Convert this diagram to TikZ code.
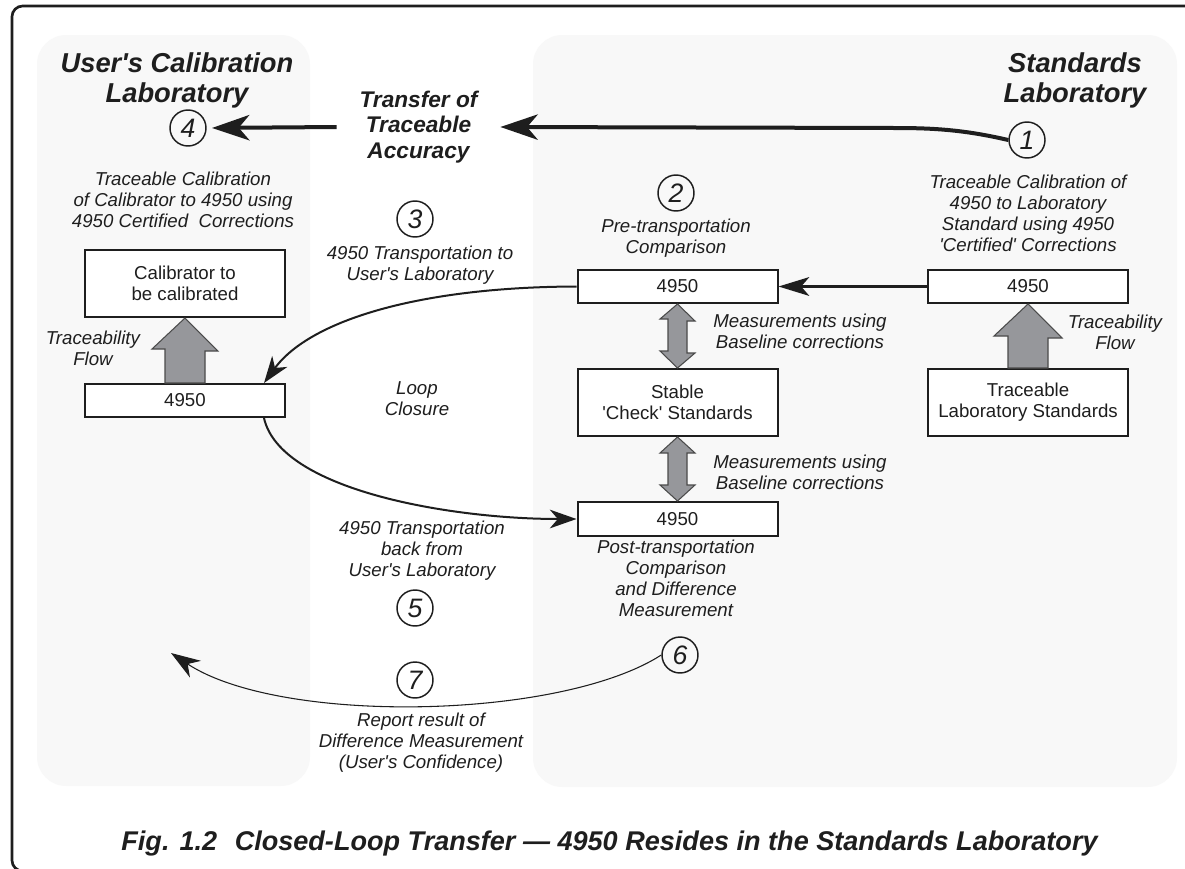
\documentclass[tikz,border=0pt]{standalone}
\usepackage{fontspec}
\setmainfont{Liberation Sans}
\usetikzlibrary{arrows.meta,calc}
\definecolor{panel}{RGB}{248,248,248}
\definecolor{blockgray}{RGB}{150,151,155}
\definecolor{ink}{RGB}{30,30,30}
\newcommand{\q}{\textquotesingle}
\begin{document}
\begin{tikzpicture}[x=0.75pt,y=-0.75pt,
  box/.style={draw=ink, line width=1.5pt, fill=white, minimum width=150pt, inner sep=0pt, align=center, font=\fontsize{14}{15.75}\selectfont, text=ink},
  numc/.style={circle, draw=ink, line width=1.1pt, minimum size=27pt, inner sep=0pt, font=\fontsize{20}{20}\selectfont\itshape, text=ink},
  lbl/.style={align=center, font=\fontsize{14}{15.75}\selectfont\itshape, text=ink, inner sep=0pt},
  ttl/.style={align=center, font=\fontsize{20.5}{22.5}\selectfont\bfseries\itshape, text=ink, inner sep=0pt},
  block/.style={fill=blockgray, draw=ink!80, line width=0.8pt, line join=miter},
  bigarrow/.style={draw=ink, line width=3pt, -{Stealth[length=28pt,width=19pt,inset=8pt]}},
  midarrow/.style={draw=ink, line width=2.2pt, -{Stealth[length=23pt,width=14pt,inset=6pt]}},
  curvearrow/.style={draw=ink, line width=1.5pt, -{Stealth[length=20pt,width=14pt,inset=6pt]}},
  thinarrow/.style={draw=ink, line width=0.8pt, -{Stealth[length=22pt,width=15pt,inset=7pt]}},
]
\useasboundingbox (0,0) rectangle (1185,868);
\fill[white] (0,0) rectangle (1185,868);
\begin{scope}
\clip (0,0) rectangle (1185,868);
\draw[ink, line width=2pt, rounded corners=8pt] (12,6) rectangle (1200,871);
\end{scope}
% panels
\fill[panel, rounded corners=22pt] (37,35) rectangle (310,786);
\fill[panel, rounded corners=22pt] (533,35) rectangle (1177,787);

% titles
\node[ttl] (tleft) at (177,80) {User\q s Calibration\\Laboratory};
\node[ttl] (tright) at (1075,80) {Standards\\Laboratory};
\node[align=center, font=\fontsize{17}{19}\selectfont\bfseries\itshape, text=ink, inner xsep=17pt, inner ysep=0pt] (trans) at (418.5,127) {Transfer of\\Traceable\\Accuracy};

% circles
\node[numc] (c1) at (1027,140) {1};
\node[numc] (c2) at (676,193) {2};
\node[numc] (c3) at (415,219) {3};
\node[numc] (c4) at (188,128) {4};
\node[numc] (c5) at (415,608) {5};
\node[numc] (c6) at (680,655) {6};
\node[numc] (c7) at (415,680) {7};

% labels
\node[lbl] (l1) at (1028,213) {Traceable Calibration of\\4950 to Laboratory\\Standard using 4950\\\q Certified\q{} Corrections};
\node[lbl] (l4) at (183,200) {Traceable Calibration\\of Calibrator to 4950 using\\4950 Certified~ Corrections};
\node[lbl] (l3) at (420,265) {4950 Transportation to\\User\q s Laboratory};
\node[lbl] (l2) at (676,238) {Pre-transportation\\Comparison};
\node[lbl] (tfl) at (93,348) {Traceability\\Flow};
\node[lbl] (tfr) at (1115,332) {Traceability\\Flow};
\node[lbl] (mu1) at (800,331) {Measurements using\\Baseline corrections};
\node[lbl] (mu2) at (800,472) {Measurements using\\Baseline corrections};
\node[lbl] (loop) at (417,399) {Loop\\Closure};
\node[lbl] (l5) at (422,551) {4950 Transportation\\back from\\User\q s Laboratory};
\node[lbl] (l6) at (676,578) {Post-transportation\\Comparison\\and Difference\\Measurement};
\node[lbl] (l7) at (421,743) {Report result of\\Difference Measurement\\(User\q s Confidence)};

% boxes
\node[box, minimum height=50.25pt] (calib) at (185,283.5) {Calibrator to\\be calibrated};
\node[box, minimum height=24.75pt] (l4950) at (185,400.5) {4950};
\node[box, minimum height=24.75pt] (m4950) at (677.5,286.5) {4950};
\node[box, minimum height=24.75pt] (r4950) at (1028,286.5) {4950};
\node[box, minimum height=50.25pt] (stable) at (677.5,402.5) {Stable\\\q Check\q{} Standards};
\node[box, minimum height=50.25pt] (tls) at (1028,402.5) {Traceable\\Laboratory Standards};
\node[box, minimum height=25.5pt] (p4950) at (677.5,519) {4950};

% block arrows (up)
\draw[block] (calib.south) -- ++(33,33) -- ++(-13,0) |- (l4950.north) -- ++(-20,0) -- ++(0,-34) -- ++(-13,0) -- cycle;
\path (calib.south) ++(-20,67) coordinate (dummy);
\draw[block] (r4950.south) -- ++(34,34) -- ++(-14,0) -- ($(tls.north)+(20,0)$) -- ($(tls.north)+(-20,0)$) -- ++(0,-32) -- ++(-14,0) -- cycle;

% double arrows
\draw[block] (m4950.south) -- ++(17.5,17) -- ++(-8,0) -- ++(0,32) -- ++(8,0) -- (stable.north) -- ++(-17.5,-17) -- ++(8,0) -- ++(0,-32) -- ++(-8,0) -- cycle;
\draw[block] (stable.south) -- ++(17.5,16) -- ++(-8,0) -- ++(0,32) -- ++(8,0) -- (p4950.north) -- ++(-17.5,-16) -- ++(8,0) -- ++(0,-32) -- ++(-8,0) -- cycle;

% main arrows
\draw[bigarrow] (c1.west) .. controls (965,130) and (935,128) .. (895,128) -- (trans.east);
\draw[bigarrow, shorten >=4pt] (trans.west) -- (c4.east);
\draw[midarrow] (r4950.west) -- (m4950.east);
\draw[curvearrow] (m4950.west) .. controls (420,287) and (310,320) .. ($(l4950.north east)+(-22,0)$);
\draw[curvearrow] ($(l4950.south east)+(-22,0)$) .. controls (280,490) and (450,519) .. (p4950.west);
\coordinate (rep) at (171,653);
\draw[thinarrow] (c6.west) .. controls (560,720) and (280,725) .. (rep);

% caption
\node[font=\fontsize{20.3}{24}\selectfont\bfseries\itshape, text=ink, inner sep=0pt] (cap) at (609.5,843) {Fig. 1.2\hspace{0.65em}Closed-Loop Transfer — 4950 Resides in the Standards Laboratory};
\end{tikzpicture}
\end{document}
